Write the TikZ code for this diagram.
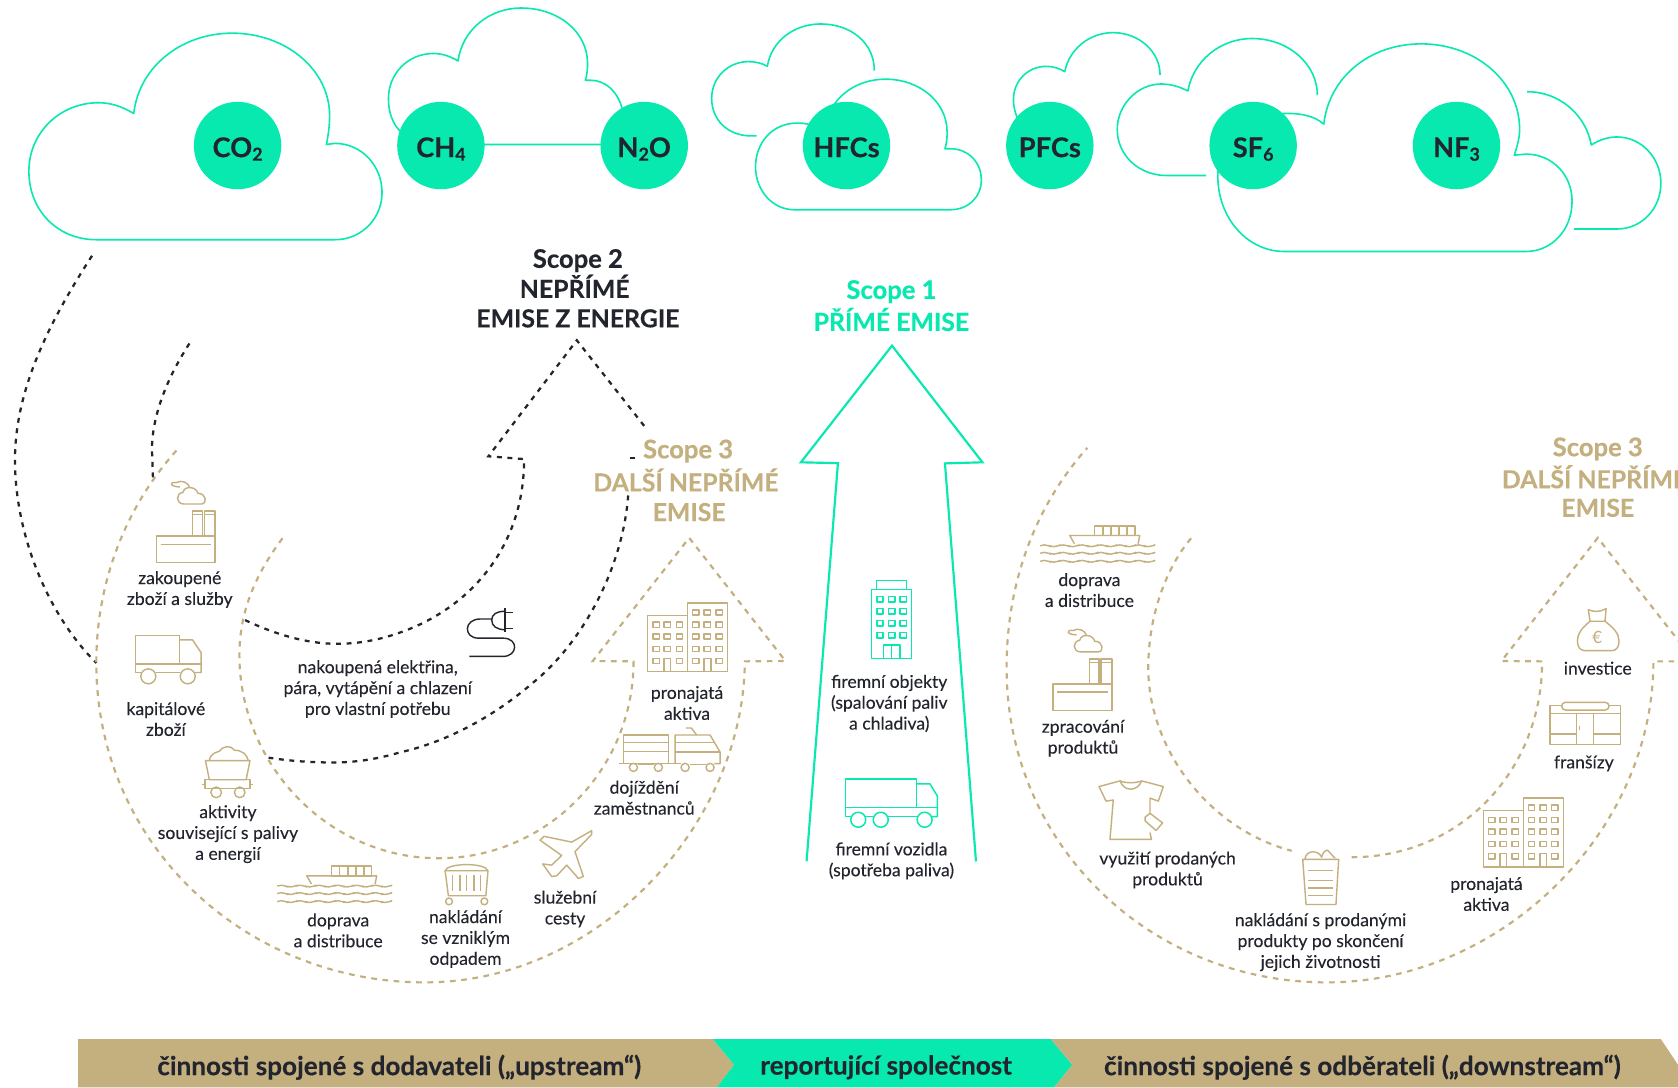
\documentclass[tikz,border=0pt]{standalone}
\usepackage{fontspec}
\setmainfont{Lato}
\newfontfamily\labf[FakeBold=0.12]{Lato}
\newfontfamily\headf[FakeBold=0.6,BoldFeatures={FakeBold=0.6}]{Lato}
\newfontfamily\semif[FakeBold=0.2,BoldFeatures={FakeBold=0.2}]{Lato}
\definecolor{teal1}{HTML}{07E9AF}
\definecolor{gold1}{HTML}{C4AF7F}
\definecolor{dark1}{HTML}{23252E}
\newcommand{\lowdig}[1]{\raisebox{-0.25ex}{\fontsize{9.5}{9.5}\selectfont #1}}
\newcommand{\scopef}{\fontsize{13.6}{13.6}\selectfont\headf\bfseries}
\newcommand{\gastxt}[1]{\raisebox{-6.2pt}[0pt][0pt]{#1}}
\tikzset{
 cloudline/.style={draw=teal1,line width=0.85pt,line join=round},
 dk/.style={draw=dark1,line width=1.2pt,dash pattern=on 2.6pt off 3pt},
 gd/.style={draw=gold1,line width=1.15pt,dash pattern=on 3pt off 3pt},
 ic/.style={draw=gold1,line width=0.75pt,line join=round},
 it/.style={draw=teal1,line width=0.8pt,line join=round},
 gas/.style={circle,fill=teal1,minimum size=46.5pt,inner sep=0pt,text=dark1,font=\fontsize{14.5}{16}\selectfont\semif\bfseries},
 lab/.style={align=center,text=dark1,inner sep=0pt,yshift=-0.8pt,font=\fontsize{9.35}{11.1}\selectfont\labf},
 headd/.style={align=center,text=dark1,inner sep=0pt,yshift=-0.3pt,font=\fontsize{13.2}{13.2}\selectfont\semif\bfseries},
 headg/.style={headd,text=gold1},
 headt/.style={headd,text=teal1},
 bartxt/.style={text=dark1,inner sep=0pt,yshift=-1.3pt,font=\fontsize{13.9}{15}\selectfont\semif\bfseries},
}
\newcommand{\iconfactory}{%
 \draw[ic] (146,500.8) rectangle (201,525.8);
 \draw[ic] (180,477.5) rectangle (189,500.8);
 \draw[ic] (191,477.5) rectangle (201,500.8);
 \draw[ic] (180,481) -- (189,481) (191,481) -- (201,481);
 \draw[ic] (150,508.6) -- (197,508.6);
 \draw[ic] (168,455) .. controls (159,455) and (157,450) .. (165,451) .. controls (169,448) and (176,451) .. (177,455);
 \draw[ic] (172,471) .. controls (164,471) and (164,461) .. (171,460) .. controls (172,454) and (183,454) .. (185,461) .. controls (193,461) and (194,471) .. (188,471) -- cycle;
}
\newcommand{\iconship}{%
 \foreach \yy in {828,835,842.5}{
  \draw[ic] (259,\yy) \foreach \k in {0,1,...,5}{ .. controls ++(4.4,-3) and ++(4.4,3) .. ++(8.83,0) .. controls ++(4.4,3) and ++(4.4,-3) .. ++(8.83,0)};
 }
 \draw[ic] (291,826) -- (286.6,818.4) -- (352,818.4) -- (350.5,826);
 \draw[ic] (310,809.4) rectangle (347.4,818.4);
 \foreach \xx in {317.5,325,332.5,340}{\draw[ic] (\xx,809.4) -- (\xx,818.4);}
}
\newcommand{\icontower}{%
 \draw[ic] (605,575) rectangle (642.4,627.7);
 \draw[ic] (642.4,563.4) rectangle (680,627.7);
 \foreach \xx in {613,623.6,634.9}\foreach \yy in {583.7,594.8,606.3}{\draw[ic] (\xx-3,\yy-2.4) rectangle (\xx+3,\yy+2.4);}
 \foreach \xx in {650.1,661,672}\foreach \yy in {572.3,583.7,594.8,606.3}{\draw[ic] (\xx-3,\yy-2.4) rectangle (\xx+3,\yy+2.4);}
 \foreach \xx in {613,634.9,650.1,672}{\draw[ic] (\xx-3,615.3) rectangle (\xx+3,620.1);}
 \draw[ic] (620.5,627.7) -- (620.5,615.2) -- (626.8,615.2) -- (626.8,627.7);
 \draw[ic] (657.9,627.7) -- (657.9,615.2) -- (664.2,615.2) -- (664.2,627.7);
}
\begin{document}
\begin{tikzpicture}[x=0.02cm,y=-0.02cm]
\useasboundingbox (0,0) rectangle (1568,1016);
\fill[white] (0,0) rectangle (1568,1016);
% clouds
\draw[cloudline] (125,106) .. controls (113,99) and (103,96) .. (92,96) .. controls (56,96) and (27,124) .. (27,160) .. controls (27,197) and (54,224) .. (90,224) -- (313,224) .. controls (338,224) and (357,204) .. (357,180) .. controls (357,155) and (338,134) .. (313,134) -- (305,135) .. controls (307,125) and (308,117) .. (308,108) .. controls (308,65) and (267,31) .. (217,31) .. controls (170,31) and (130,62) .. (125,106) -- cycle;
\draw[cloudline] (428,57) .. controls (420,52) and (412,50) .. (405,50) .. controls (381,50) and (363,69) .. (363,92) .. controls (363,112) and (372,128) .. (395,135) -- (560,135) .. controls (575,135) and (584,118) .. (581,100) .. controls (577,86) and (566,75) .. (552,75) -- (547,75) .. controls (549,68) and (549,64) .. (549,59) .. controls (549,30) and (522,7.5) .. (487,7.5) .. controls (457,7.5) and (432,28) .. (428,57) -- cycle;
\draw[cloudline] (707,127) -- (702,127) .. controls (680,127) and (665,112) .. (665,92) .. controls (665,72) and (681,57.6) .. (699,57.6) .. controls (706,57.6) and (712,59) .. (717,62) .. controls (721,38) and (742,22.4) .. (767,22.4) .. controls (795,22.4) and (817,40) .. (817,66);
\draw[cloudline] (765,120) .. controls (758,116) and (752,115) .. (745,115) .. controls (722,115) and (706,133) .. (706,156) .. controls (706,178) and (722,196) .. (742,196) -- (888,196) .. controls (905,196) and (917,184) .. (917,168) .. controls (917,152) and (905,139) .. (888,139) -- (883,139) .. controls (885,132) and (885,128) .. (885,123) .. controls (885,96) and (860,74) .. (827.5,74) .. controls (805,74) and (785,85) .. (775,105);
\draw[cloudline] (955,120) .. controls (950,110) and (947,102) .. (947,93) .. controls (947,76) and (960,62) .. (978,62) .. controls (984,62) and (990,64) .. (995,67) .. controls (999,46) and (1018,30.5) .. (1040,30.5) .. controls (1064,30.5) and (1084,48) .. (1084,70);
\draw[cloudline] (1127,164) -- (1090,164) .. controls (1064,164) and (1044,145) .. (1044,121) .. controls (1044,98) and (1063,78.5) .. (1085,78.5) .. controls (1094,78.5) and (1102,81) .. (1110,85) .. controls (1115,57) and (1140,36) .. (1170,36) .. controls (1204,36) and (1231,60) .. (1231,89);
\draw[cloudline] (1237,116) .. controls (1228,108) and (1215,106) .. (1203,106) .. controls (1165,106) and (1138,130) .. (1138,165) .. controls (1138,203) and (1165,235) .. (1200,235) -- (1426,235) .. controls (1450,235) and (1469,215) .. (1469,188) .. controls (1469,163) and (1450,144) .. (1426,144) -- (1415,145) .. controls (1418,136) and (1420,128) .. (1420,121) .. controls (1420,76) and (1379,41) .. (1328,41) .. controls (1280,41) and (1242,72) .. (1237,116) -- cycle;
\draw[cloudline] (1427,85.7) .. controls (1458,85.7) and (1482,108) .. (1487,135.5) .. controls (1494,131) and (1502,128) .. (1511,128) .. controls (1534,128) and (1552,148) .. (1552,171) .. controls (1552,195) and (1534,214) .. (1511,214) -- (1471,214);
% gases
\node[gas] (co2) at (222,136) {\gastxt{CO\lowdig{2}}};
\node[gas] (ch4) at (412,136) {\gastxt{CH\lowdig{4}}};
\node[gas] (n2o) at (602,136) {\gastxt{N\lowdig{2}O}};
\node[gas] (hfc) at (791,136) {\gastxt{HFCs}};
\node[gas] (pfc) at (981,136) {\gastxt{PFCs}};
\node[gas] (sf6) at (1171,136) {\gastxt{SF\lowdig{6}}};
\node[gas] (nf3) at (1361,136) {\gastxt{NF\lowdig{3}}};
% headings
\node[headd,font=\scopef] (s2a) at (540,243) {Scope 2};
\node[headd] (s2b) at (537,267) {NEPŘÍMÉ};
\node[headd] (s2c) at (540,297) {EMISE Z ENERGIE};
\node[headt,font=\scopef] (s1a) at (833,272) {Scope 1};
\node[headt] (s1b) at (833,298) {PŘÍMÉ EMISE};
\node[headg,font=\scopef] (s3a) at (643,421) {Scope 3};
\node[headg] (s3b) at (641,448) {DALŠÍ NEPŘÍMÉ};
\node[headg] (s3c) at (644,478) {EMISE};
\node[headg,font=\scopef] (s4a) at (1493,419) {Scope 3};
\node[headg] (s4b) at (1490,445) {DALŠÍ NEPŘÍMÉ};
\node[headg] (s4c) at (1493,474) {EMISE};
% green arrow
\draw[draw=teal1,line width=1.15pt,line join=miter] (753.7,804.8) -- (783,432.8) -- (748.4,432) -- (833.5,323) -- (918,432) -- (883,433) -- (912,805);
% dark dashed
\draw[dk] (86,239) .. controls (40,310) and (14,370) .. (14,430) .. controls (14,500) and (45,575) .. (90,619.5);
\draw[dk] (177,321) .. controls (155,355) and (142,390) .. (142,420) -- (143,449);
\draw[dk] (229,579.5) .. controls (256,592) and (285,601.6) .. (315,601.6) .. controls (340,601.6) and (360,596) .. (374,591) .. controls (440,568) and (490,510) .. (489.7,429) -- (456.4,426.4) -- (539,318) -- (604,400.6);
\draw[dk] (593,428) -- (589,428);
\draw[dk] (587,463) .. controls (582,530) and (545,600) .. (498,638) .. controls (455,675) and (410,695) .. (374,703) .. controls (350,710) and (330,712.5) .. (311.5,712.5) .. controls (290,712.5) and (270,711) .. (251,708);
% gold dashed left
\draw[gd] (264,503) .. controls (240,535) and (223.7,570) .. (223.7,612) .. controls (223.7,715) and (307,802) .. (410,802) .. controls (510,802) and (592,720) .. (592,618) -- (553.9,617.7) -- (644,502.6) -- (734,617.7) -- (696,618) .. controls (695,770) and (560,918) .. (397,918) .. controls (230,918) and (90,790) .. (90,619.5) .. controls (90,540) and (120,470) .. (166.7,419);
% gold dashed right
\draw[gd] (1113,503) .. controls (1090,530) and (1073,575) .. (1073,624) .. controls (1073,700) and (1130,775) .. (1207,795);
\draw[gd] (1263,801) .. controls (1365,801) and (1441,720) .. (1441,618) -- (1403,617.7) -- (1493,502.6) -- (1575,607);
\draw[gd] (1575,618) -- (1545,618) .. controls (1545,780) and (1400,918) .. (1240,918) .. controls (1075,918) and (940.6,790) .. (940.6,624) .. controls (940.6,540) and (970,470) .. (1016,418.5);
% bars
\fill[gold1] (73,971) -- (666,971) -- (686,995) -- (670,1016) -- (73,1016) -- cycle;
\fill[teal1] (666,971) -- (982,971) -- (1002,995) -- (985,1016) -- (670,1016) -- (686,995) -- cycle;
\fill[gold1] (982,971) -- (1552,971) -- (1568,995) -- (1568,1016) -- (985,1016) -- (1002,995) -- cycle;
\node[bartxt] (b1) at (373,995) {činnosti spojené s dodavateli („upstream“)};
\node[bartxt] (b2) at (828,995) {reportující společnost};
\node[bartxt] (b3) at (1273,995) {činnosti spojené s odběrateli („downstream“)};
% labels
\node[lab] (l1) at (168,549.5) {zakoupené\\zboží a služby};
\node[lab] (l2) at (155,670.5) {kapitálové\\zboží};
\node[lab] (l3) at (213,778) {aktivity\\související s palivy\\a energií};
\node[lab] (l4) at (316,868) {doprava\\a distribuce};
\node[lab] (l5) at (435,876) {nakládání\\se vzniklým\\odpadem};
\node[lab] (l6) at (528,848) {služební\\cesty};
\node[lab] (l7) at (602,744) {dojíždění\\zaměstnanců};
\node[lab] (l8) at (642,655.5) {pronajatá\\aktiva};
\node[lab] (l9) at (353,642.5) {nakoupená elektřina,\\pára, vytápění a chlazení\\pro vlastní potřebu};
\node[lab] (l10) at (831,656) {firemní objekty\\(spalování paliv\\a chladiva)};
\node[lab] (l11) at (833,803) {firemní vozidla\\(spotřeba paliva)};
\node[lab] (l12) at (1018,550) {doprava\\a distribuce};
\node[lab] (l13) at (1012,688.5) {zpracování\\produktů};
\node[lab] (l14) at (1091,811.5) {využití prodaných\\produktů};
\node[lab] (l15) at (1234,879) {nakládání s prodanými\\produkty po skončení\\jejich životnosti};
\node[lab] (l16) at (1389,834) {pronajatá\\aktiva};
\node[lab] (l17) at (1493,623) {investice};
\node[lab] (l18) at (1480,712) {franšízy};
% icons
\iconfactory
\begin{scope}[shift={(838,138.2)}]\iconfactory\end{scope}
\iconship
\begin{scope}[shift={(713,-318)}]\iconship\end{scope}
\icontower
\begin{scope}[shift={(781,182.4)}]\icontower\end{scope}
% truck gold
\draw[ic] (126.5,593.8) rectangle (168,620.6);
\draw[ic] (168,598) -- (180,598) -- (188,610) -- (188,628.4) -- (182,628.4);
\draw[ic] (126.5,620.6) -- (188,620.6);
\draw[ic] (126.5,620.6) -- (126.5,628.4) -- (131.6,628.4) (145.6,628.4) -- (168.4,628.4);
\draw[ic] (138.6,632) circle (7) (175.4,632) circle (7);
% cart
\draw[ic] (192,710.7) -- (233.6,710.7) -- (230,728.6) -- (195.6,728.6) -- cycle;
\draw[ic] (195.6,710.7) .. controls (197,703) and (203,703) .. (205,702) .. controls (208,697) and (216,696) .. (219,701) .. controls (226,701) and (231,705) .. (232,710.7);
\draw[ic] (191.6,728.6) rectangle (233.6,736.8);
\draw[ic] (188.5,733) -- (191.6,733) (233.6,733) -- (236.8,733);
\draw[ic] (202,740.4) circle (5) (224,740.4) circle (5);
% waste cart
\draw[ic] (415.9,813.7) -- (456,813.7) -- (454,837) -- (419,837) -- cycle;
\draw[ic] (415.9,813.7) .. controls (418,806) and (454,806) .. (456,813.7);
\foreach \xx in {423,430,436,443,449}{\draw[ic] (\xx,818) -- (\xx,833);}
\draw[ic] (419.6,842.3) circle (3.2) (452.6,842.3) circle (3.2);
% plane
\draw[ic] (552.9,776.2) -- (534.2,786.9) -- (508.4,781.5) -- (504.6,785.1) -- (524.9,799.4) -- (515.5,808.4) -- (507.1,807.3) -- (515.5,819) -- (520.2,818.4) -- (529.6,808.4) -- (540.5,820.9) -- (545.1,819) -- (537.3,795.8) -- (552.9,779.7) -- cycle;
% tram
\draw[ic] (582.5,686.8) rectangle (624.6,713.6);
\draw[ic] (582.5,693.9) -- (624.6,693.9) (582.5,702) -- (624.6,702);
\draw[ic] (578.5,713.6) -- (587.9,713.6) (596,714.5) -- (611,714.5) (619.5,713.6) -- (636,713.6);
\draw[ic] (591.9,717.1) circle (3.8) (615.2,717.1) circle (3.8);
\draw[ic] (630.8,713.6) -- (630.8,686.8) -- (663.5,686.8) -- (672.9,702.8) -- (672.9,713.6) -- (667.5,713.6);
\draw[ic] (630.8,702.8) -- (672.9,702.8) (630.8,693.9) -- (667.6,693.9);
\draw[ic] (644.5,714.5) -- (659.5,714.5);
\draw[ic] (640.2,717.1) circle (3.8) (663.5,717.1) circle (3.8);
\draw[ic] (641,680.3) -- (646,680.3) -- (651,686.8);
% plug
\draw[draw=dark1,line width=0.75pt] (438.6,613.4) -- (470,613.4) .. controls (484,613.4) and (485,596.3) .. (470,596.3) -- (447,596.3) .. controls (433,596.3) and (433,578.4) .. (449,578.4) -- (459.5,578.4);
\draw[draw=dark1,line width=0.75pt] (472,571.2) .. controls (464,571.2) and (459.5,574) .. (459.5,579.4) .. controls (459.5,585) and (464,588.4) .. (472,588.4);
\draw[draw=dark1,line width=0.75pt] (472,568) -- (472,591);
\draw[draw=dark1,line width=0.75pt] (472,572.3) -- (479.7,572.3) (472,587.3) -- (479.7,587.3);
% green building
\draw[it] (814.5,550.8) rectangle (851.9,615.2);
\draw[it] (819,550.8) -- (819,542.6) -- (847,542.6) -- (847,550.8);
\foreach \xx in {822.3,833.2,844}\foreach \yy in {559.8,571.2,582.3,593.8}{\draw[it] (\xx-3,\yy-2.6) rectangle (\xx+3,\yy+2.6);}
\draw[it] (825.4,615.2) -- (825.4,602.7) -- (841,602.7) -- (841,615.2) (833.2,602.7) -- (833.2,615.2);
% green truck
\draw[it] (790,727.9) rectangle (856.5,754.7);
\draw[it] (856.5,732.5) -- (869,732.5) -- (876,744) -- (876,763) -- (871,763);
\draw[it] (790,754.7) -- (876,754.7);
\draw[it] (790,754.7) -- (790,763) -- (795,763) (809,763) -- (816,763) (830,763) -- (857,763);
\draw[it] (802,766) circle (7) (823,766) circle (7) (864,766) circle (7);
% t-shirt
\draw[ic] (1046.6,729.7) -- (1027,735) -- (1033.5,748.6) -- (1040.3,747.6) -- (1037.2,784.4) -- (1076,784.4) -- (1074.6,778);
\draw[ic] (1074.6,760) -- (1074.6,745.8) -- (1082.4,748.6) -- (1087,735) -- (1066.8,729.7);
\draw[ic] (1046.6,729.7) .. controls (1052,732) and (1061,732) .. (1066.8,729.7);
\draw[ic] (1046.6,729.7) .. controls (1050,740) and (1063,740) .. (1066.8,729.7);
\draw[ic] (1070,763.7) -- (1074.6,760) -- (1086.4,769) -- (1080.2,776) -- (1070,767) -- cycle;
% basket
\draw[ic] (1217.3,803) -- (1250.9,803) -- (1248.4,845.2) -- (1220.4,845.2) -- cycle;
\foreach \yy in {813.7,822.7,829.8,837}{\draw[ic] (1222.6,\yy) -- (1246,\yy);}
\draw[ic] (1219.4,803) .. controls (1220,794) and (1232,794) .. (1235,801) .. controls (1236,796) and (1240,793) .. (1241,795) -- (1247.5,802);
% money bag
\draw[ic] (1485.8,580.5) .. controls (1478,587) and (1474,592) .. (1474,599) .. controls (1474,605) and (1477,608) .. (1481,608) -- (1506,608) .. controls (1510,608) and (1512.9,605) .. (1512.9,599) .. controls (1512.9,592) and (1508,587) .. (1499.8,580.5) -- cycle;
\draw[ic] (1485.8,580.5) -- (1484.2,569.8) .. controls (1490,572) and (1495,572) .. (1500.8,568.7) -- (1499.8,580.5);
\node[text=gold1,inner sep=0pt,font=\fontsize{9}{9}\selectfont] (euro) at (1492.6,595.5) {€};
% shop
\draw[ic] (1448.4,659.2) rectangle (1514.5,695.7);
\draw[ic,fill=white,rounded corners=2pt] (1459.3,656.3) rectangle (1503.5,663.5);
\draw[ic] (1448.4,667) -- (1514.5,667) (1448.4,685.7) -- (1473.3,685.7) (1489,685.7) -- (1514.5,685.7);
\draw[ic] (1473.3,667) -- (1473.3,695.7) (1489,667) -- (1489,695.7);
\draw[ic] (1476,678) -- (1476,682);
\end{tikzpicture}
\end{document}
